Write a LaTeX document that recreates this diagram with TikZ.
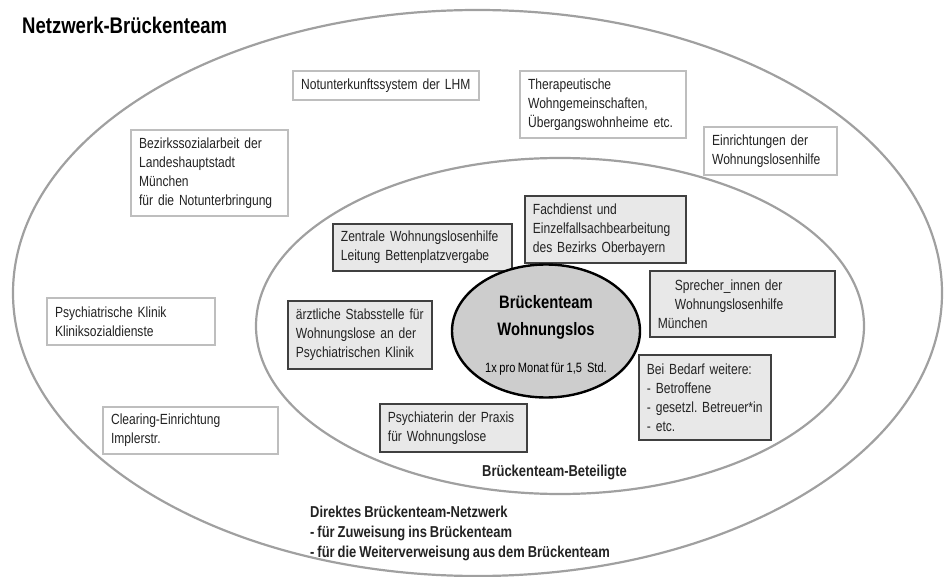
\documentclass[tikz,border=0pt]{standalone}
\usepackage{fontspec}
\setmainfont{Liberation Sans}[FakeStretch=0.82, WordSpace=0.82]
\usetikzlibrary{shapes.geometric}

\definecolor{ringgray}{RGB}{160,160,160}
\definecolor{outerline}{RGB}{190,190,190}
\definecolor{innerline}{RGB}{64,64,64}
\definecolor{innerfill}{RGB}{232,232,232}
\definecolor{teamfill}{RGB}{205,205,205}
\definecolor{txt}{RGB}{35,35,35}

\tikzset{
	ring/.style={draw=ringgray, line width=2.2pt},
	netbox/.style={draw=outerline, line width=2.2pt, fill=white, anchor=north west,
		align=left, inner xsep=8pt, inner ysep=0pt, text=txt,
		font=\fontsize{14.7}{19}\selectfont},
	teambox/.style={netbox, draw=innerline, line width=1.8pt, fill=innerfill},
	boldtext/.style={anchor=west, inner sep=0pt, text=txt, align=left,
		font=\fontsize{15.8}{20}\selectfont\bfseries},
}

\begin{document}
\frenchspacing
\begin{tikzpicture}[x=1pt,y=-1pt]
		\useasboundingbox (0,0) rectangle (950,577);
		
		% rings
		\draw[ring] (477.5,293) ellipse [x radius=464.5pt, y radius=283pt];
		\draw[ring] (560,326) ellipse [x radius=304pt, y radius=168pt];
		
		\node[boldtext, font=\fontsize{22.6}{26}\selectfont\bfseries, text=black] (title) at (22,25) {Netzwerk-Brückenteam};
		
		% outer network
		\node[netbox, text width=170pt, minimum height=29pt] (notunterkunft) at (292,70) {Notunterkunftssystem der LHM};
		\node[netbox, text width=150pt, minimum height=67pt] (therapeutisch) at (519,70) {Therapeutische\\Wohngemeinschaften,\\Übergangswohnheime etc.};
		\node[netbox, text width=117pt, minimum height=48pt] (einrichtungen) at (703,126) {Einrichtungen der\\Wohnungslosenhilfe};
		\node[netbox, text width=141pt, minimum height=86pt] (bezirk) at (130,129) {Bezirkssozialarbeit der\\Landeshauptstadt\\München\\für die Notunterbringung};
		\node[netbox, text width=152pt, minimum height=47pt] (klinik) at (46,297) {Psychiatrische Klinik\\Kliniksozialdienste};
		\node[netbox, text width=159pt, minimum height=47pt] (clearing) at (102,406) {Clearing-Einrichtung\\Implerstr.};
		
		% Brueckenteam-Beteiligte
		\node[teambox, text width=163pt, minimum height=47pt] (zentrale) at (332,223) {Zentrale Wohnungslosenhilfe\\Leitung Bettenplatzvergabe};
		\node[teambox, text width=145pt, minimum height=67pt] (fachdienst) at (524,195) {Fachdienst und\\Einzelfallsachbearbeitung\\des Bezirks Oberbayern};
		\node[teambox, text width=169pt, minimum height=66pt] (sprecher) at (649,270) {\hspace*{17pt}Sprecher\_innen der\\\hspace*{17pt}Wohnungslosenhilfe\\München};
		\node[teambox, text width=128pt, minimum height=68pt] (stabsstelle) at (287,300) {ärztliche Stabsstelle für\\Wohnungslose an der\\Psychiatrischen Klinik};
		\node[teambox, text width=131pt, minimum height=48pt] (praxis) at (379,403) {Psychiaterin der Praxis\\für Wohnungslose};
		\node[teambox, text width=116pt, minimum height=85pt] (bedarf) at (638,354) {Bei Bedarf weitere:\\- Betroffene\\- gesetzl.~Betreuer*in\\- etc.};
		
		\node[ellipse, draw=black, line width=2.4pt, fill=teamfill, minimum width=188pt, minimum height=133pt,
			align=center, inner sep=0pt, text=black, font=\fontsize{18}{27}\selectfont\bfseries] (team) at (546,331)
			{\rule{0pt}{21pt}Brückenteam\\Wohnungslos\\[10pt]
			 {\fontsize{13.5}{16}\selectfont\mdseries 1x pro Monat für 1,5~~Std.}};
		
		\node[boldtext] (beteiligte) at (482,472) {Brückenteam-Beteiligte};
		\node[boldtext, anchor=north west] (direkt) at (310,506) {Direktes Brückenteam-Netzwerk\\- für Zuweisung ins Brückenteam\\- für die Weiterverweisung aus dem Brückenteam};
	\end{tikzpicture}
\end{document}
